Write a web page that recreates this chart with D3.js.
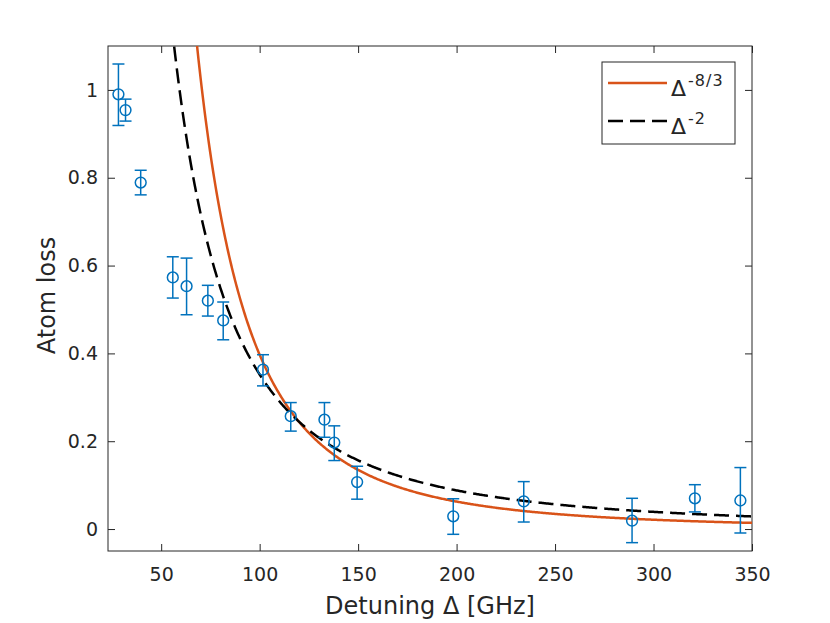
<!DOCTYPE html>
<html>
<head>
<meta charset="utf-8">
<script src="https://cdn.jsdelivr.net/npm/d3@7"></script>
<style>
  body { margin: 0; background: #fff; }
  text { font-family: "DejaVu Sans", "Liberation Sans", Arial, sans-serif; fill: #262626; }
</style>
</head>
<body>
<div id="chart"></div>
<script>
// measured atom loss vs detuning (GHz)
var detuning = [28.3, 31.9, 39.6, 55.9, 62.9, 73.7, 81.5, 101.7, 115.8, 132.9, 137.9, 149.5, 198.3, 234.1, 289.1, 321.0, 344.1];
var atomLoss = [0.990, 0.954, 0.789, 0.573, 0.553, 0.520, 0.475, 0.363, 0.257, 0.249, 0.197, 0.107, 0.029, 0.063, 0.019, 0.070, 0.065];
var errUpper = [1.059, 0.979, 0.817, 0.620, 0.617, 0.555, 0.517, 0.397, 0.288, 0.288, 0.235, 0.143, 0.069, 0.108, 0.070, 0.101, 0.140];
var errLower = [0.919, 0.929, 0.761, 0.526, 0.488, 0.485, 0.431, 0.326, 0.223, 0.209, 0.156, 0.068, -0.012, 0.016, -0.031, 0.039, -0.009];

// power law fits  A * Delta^p
var fitExponents = [-8 / 3, -2];
var fitAmplitudes = [85500, 3520];
var fitSup = ["-8/3", "-2"];

var xTicks = [50, 100, 150, 200, 250, 300, 350];
var yTicks = [0, 0.2, 0.4, 0.6, 0.8, 1];

var margin = {top: 46, right: 78, bottom: 72, left: 108},
    width = 830 - margin.left - margin.right,
    height = 623 - margin.top - margin.bottom;

var svg = d3.select("#chart")
  .append("svg")
    .attr("width", 830)
    .attr("height", 623)
  .append("g")
    .attr("transform", "translate(" + margin.left + "," + margin.top + ")");

var x = d3.scaleLinear().domain([23, 350]).range([0, width]);
var y = d3.scaleLinear().domain([-0.05, 1.1]).range([height, 0]);

svg.append("clipPath").attr("id", "clip")
  .append("rect").attr("width", width).attr("height", height);

// axes, MATLAB style: ticks inside, mirrored on top and right
function styleAxis(g) {
  g.select(".domain").remove();
  g.selectAll("line").attr("stroke", "#262626");
  g.selectAll("text").attr("font-size", "19px").attr("fill", "#262626");
}
svg.append("g")
  .attr("transform", "translate(0," + height + ")")
  .call(d3.axisBottom(x).tickValues(xTicks).tickSizeInner(-7).tickSizeOuter(0).tickPadding(17))
  .call(styleAxis);
svg.append("g")
  .call(d3.axisTop(x).tickValues(xTicks).tickSizeInner(-7).tickSizeOuter(0).tickFormat(""))
  .call(styleAxis);
svg.append("g")
  .call(d3.axisLeft(y).tickValues(yTicks).tickSizeInner(-7).tickSizeOuter(0).tickPadding(10).tickFormat(d3.format("")))
  .call(styleAxis);
svg.append("g")
  .attr("transform", "translate(" + width + ",0)")
  .call(d3.axisRight(y).tickValues(yTicks).tickSizeInner(-7).tickSizeOuter(0).tickFormat(""))
  .call(styleAxis);

svg.append("rect")
  .attr("width", width)
  .attr("height", height)
  .attr("fill", "none")
  .attr("stroke", "#262626")
  .attr("stroke-width", 1);

// fit curves
var fitColors = ["#D95319", "#000000"];
var fitDash = [null, "15,7"];
var xs = d3.range(23, 350.5, 0.5);
fitExponents.forEach(function(p, i) {
  var line = d3.line()
    .x(function(d) { return x(d); })
    .y(function(d) { return y(Math.min(fitAmplitudes[i] * Math.pow(d, p), 3)); });
  svg.append("path")
    .datum(xs)
    .attr("clip-path", "url(#clip)")
    .attr("fill", "none")
    .attr("stroke", fitColors[i])
    .attr("stroke-width", 2.5)
    .attr("stroke-dasharray", fitDash[i])
    .attr("d", line);
});

// error bars + circles
var blue = "#0072BD";
var pts = svg.append("g").attr("clip-path", "url(#clip)");
detuning.forEach(function(d, i) {
  var cx = x(d);
  pts.append("line")
    .attr("x1", cx).attr("x2", cx)
    .attr("y1", y(errLower[i])).attr("y2", y(errUpper[i]))
    .attr("stroke", blue).attr("stroke-width", 1.5);
  [errLower[i], errUpper[i]].forEach(function(e) {
    pts.append("line")
      .attr("x1", cx - 6).attr("x2", cx + 6)
      .attr("y1", y(e)).attr("y2", y(e))
      .attr("stroke", blue).attr("stroke-width", 1.5);
  });
  pts.append("circle")
    .attr("cx", cx).attr("cy", y(atomLoss[i]))
    .attr("r", 5.4)
    .attr("fill", "none")
    .attr("stroke", blue).attr("stroke-width", 1.5);
});

// axis labels
svg.append("text")
  .attr("x", width / 2)
  .attr("y", height + 63)
  .attr("text-anchor", "middle")
  .attr("font-size", "24px")
  .text("Detuning \u0394 [GHz]");
svg.append("text")
  .attr("transform", "rotate(-90)")
  .attr("x", -(height / 2) + 3)
  .attr("y", -53)
  .attr("text-anchor", "middle")
  .attr("font-size", "24px")
  .text("Atom loss");

// legend
var legend = svg.append("g").attr("transform", "translate(" + (width - 150) + ",16)");
legend.append("rect")
  .attr("width", 133).attr("height", 82)
  .attr("fill", "#fff")
  .attr("stroke", "#262626").attr("stroke-width", 1);
fitSup.forEach(function(s, i) {
  var ly = 21 + i * 38;
  legend.append("line")
    .attr("x1", 6).attr("x2", 65)
    .attr("y1", ly).attr("y2", ly)
    .attr("stroke", fitColors[i])
    .attr("stroke-width", 2.5)
    .attr("stroke-dasharray", fitDash[i]);
  var t = legend.append("text")
    .attr("x", 69).attr("y", ly + 13)
    .attr("font-size", "22px");
  t.append("tspan").text("\u0394");
  t.append("tspan").attr("dy", -10).attr("dx", 2).attr("font-size", "16px").attr("letter-spacing", "1px").text(s);
});
</script>
</body>
</html>
